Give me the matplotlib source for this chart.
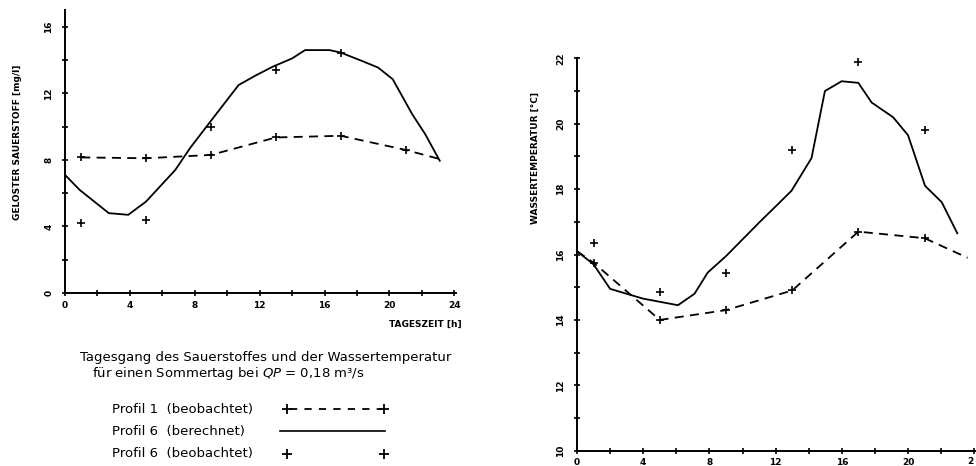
import matplotlib
matplotlib.use("Agg")
import matplotlib.pyplot as plt
from matplotlib.lines import Line2D
from matplotlib.ticker import MultipleLocator

# --- Sauerstoff (left panel) ---
o2_calc_t = [0, 0.9, 2.7, 3.9, 5.0, 6.8, 7.7, 8.8, 10.7, 11.8, 12.8, 14.0, 14.8,
             16.3, 17.0, 18.3, 19.3, 20.2, 21.4, 22.2, 23.1]
o2_calc = [7.1, 6.2, 4.8, 4.7, 5.5, 7.4, 8.7, 10.1, 12.5, 13.1, 13.6, 14.1, 14.6,
           14.6, 14.45, 13.95, 13.55, 12.85, 10.75, 9.55, 7.95]
o2_p1_t = [1, 5, 9, 13, 17, 21, 23.1]
o2_p1 = [8.15, 8.1, 8.3, 9.35, 9.45, 8.6, 8.05]
o2_p6_obs_t = [1, 5, 9, 13, 17]
o2_p6_obs = [4.2, 4.4, 10.0, 13.4, 14.45]

# --- Wassertemperatur (right panel) ---
tw_calc_t = [0, 1.0, 2.0, 3.0, 4.0, 6.1, 7.1, 7.9, 9.0, 11.05, 12.06, 12.96, 14.17,
             14.98, 15.99, 17.0, 17.8, 19.1, 20.0, 21.03, 22.04, 22.98]
tw_calc = [16.1, 15.7, 14.95, 14.8, 14.65, 14.45, 14.8, 15.45, 15.95, 17.0, 17.5,
           17.95, 18.95, 21.0, 21.3, 21.25, 20.65, 20.2, 19.65, 18.1, 17.6, 16.65]
tw_p1_t = [0, 1, 5, 9, 13, 17, 21, 23.6]
tw_p1 = [16.1, 15.75, 14.0, 14.3, 14.9, 16.7, 16.5, 15.9]
tw_p6_obs_t = [1, 5, 9, 13, 17, 21]
tw_p6_obs = [16.35, 14.85, 15.45, 19.2, 21.9, 19.8]

hours_major = [0, 4, 8, 12, 16, 20, 24]

ink = "black"
lab_font = dict(fontsize=6.5, fontweight="bold", family="DejaVu Sans")


def style_axes(ax, ymajor, yminor):
    for s in ("top", "right"):
        ax.spines[s].set_visible(False)
    for s in ("left", "bottom"):
        ax.spines[s].set_linewidth(1.4)
    ax.set_xticks(hours_major)
    ax.xaxis.set_minor_locator(MultipleLocator(2))
    ax.yaxis.set_major_locator(MultipleLocator(ymajor))
    ax.yaxis.set_minor_locator(MultipleLocator(yminor))
    ax.tick_params(which="both", direction="inout", length=5, width=1.2, colors=ink)
    ax.tick_params(axis="y", pad=6)
    ax.tick_params(axis="x", pad=3)
    for lab in ax.get_yticklabels():
        lab.set_rotation(90)
        lab.set_va("center")
        lab.set(**lab_font)
    for lab in ax.get_xticklabels():
        lab.set(**lab_font)
    ax.patch.set_alpha(0)


fig = plt.figure(figsize=(9.76, 4.66), dpi=100)

# left panel
ax1 = fig.add_axes([0.0666, 0.3712, 0.4006, 0.607])
ax1.plot(o2_calc_t, o2_calc, color=ink, lw=1.3)
ax1.plot(o2_p1_t, o2_p1, color=ink, lw=1.3, ls=(0, (5, 3.5)),
         marker="+", ms=6, mew=1.2, markevery=list(range(6)))
ax1.plot(o2_p6_obs_t, o2_p6_obs, ls="none", marker="+", ms=6, mew=1.2, color=ink)
ax1.set_xlim(0, 24.1)
ax1.set_ylim(0, 17)
style_axes(ax1, 4, 2)
fig.text(18 / 976, 1 - 142 / 466, "GELOSTER SAUERSTOFF [mg/l]", rotation=90,
         ha="center", va="center", **lab_font)
fig.text(462 / 976, 1 - 324 / 466, "TAGESZEIT [h]", ha="right", va="center", **lab_font)

# right panel
ax2 = fig.add_axes([0.5912, 0.0328, 0.4078, 0.842])
ax2.plot(tw_calc_t, tw_calc, color=ink, lw=1.3)
ax2.plot(tw_p1_t, tw_p1, color=ink, lw=1.3, ls=(0, (5, 3.5)),
         marker="+", ms=6, mew=1.2, markevery=list(range(1, 7)))
ax2.plot(tw_p6_obs_t, tw_p6_obs, ls="none", marker="+", ms=6, mew=1.2, color=ink)
ax2.set_xlim(0, 24.05)
ax2.set_ylim(10, 22)
style_axes(ax2, 2, 1)
ax2.set_xticklabels(["0", "4", "8", "12", "16", "20", ""])
fig.text(970 / 976, 1 - 462 / 466, "2", ha="center", va="center", **lab_font)
fig.text(535 / 976, 1 - 158 / 466, "WASSERTEMPERATUR [°C]", rotation=90,
         ha="center", va="center", **lab_font)

# caption and legend
cap = dict(fontsize=9.5, family="DejaVu Sans", color=ink)
fig.text(80 / 976, 1 - 357 / 466, "Tagesgang des Sauerstoffes und der Wassertemperatur",
         ha="left", va="center", **cap)
fig.text(92 / 976, 1 - 374 / 466, "für einen Sommertag bei $QP$ = 0,18 m³/s",
         ha="left", va="center", **cap)

leg_rows = ["Profil 1  (beobachtet)", "Profil 6  (berechnet)", "Profil 6  (beobachtet)"]
leg_y = [409, 431, 454]
for txt, yy in zip(leg_rows, leg_y):
    fig.text(112 / 976, 1 - yy / 466, txt, ha="left", va="center", **cap)

y0 = 1 - leg_y[0] / 466
fig.add_artist(Line2D([290 / 976, 382 / 976], [y0, y0], color=ink, lw=1.3,
                      ls=(0, (4, 4)), transform=fig.transFigure))
y1 = 1 - leg_y[1] / 466
fig.add_artist(Line2D([280 / 976, 385 / 976], [y1, y1], color=ink, lw=1.2,
                      transform=fig.transFigure))
y2 = 1 - leg_y[2] / 466
for yy in (y0, y2):
    fig.add_artist(Line2D([287 / 976, 384 / 976], [yy, yy], ls="none", marker="+",
                          ms=7, mew=1.3, color=ink, transform=fig.transFigure))

fig.savefig("out.png", dpi=100)
